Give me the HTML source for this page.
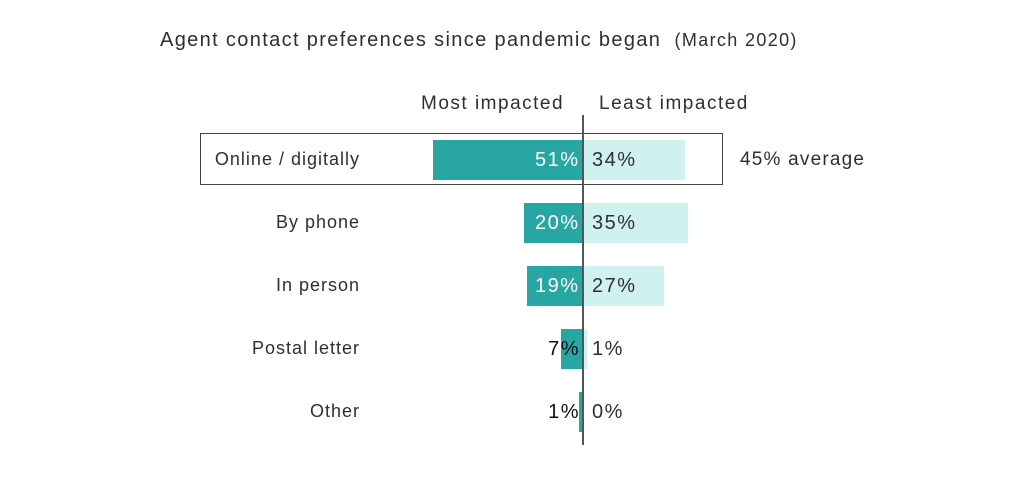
<!DOCTYPE html>
<html><head><style>
body{margin:0;width:1024px;height:479px;background:#fff;position:relative;font-family:"Liberation Sans",sans-serif;color:#2e2e38;overflow:hidden}
div{position:absolute}
.t{font-size:18px;white-space:nowrap}
.d{background:#27a6a4}
.l{background:#cff2f1}
.lab{right:664px;font-size:18px;text-align:right;white-space:nowrap;letter-spacing:1px}
.pw{color:#fff;font-size:20px;text-align:right;letter-spacing:1.5px;margin-right:-1.5px}
.pk{font-size:20px;letter-spacing:1.5px}
</style></head><body>
<div class="t" style="left:160px;top:29px;font-size:20px;letter-spacing:1.35px">Agent contact preferences since pandemic began <span style="font-size:18px">&nbsp;(March 2020)</span></div>
<div class="t" style="left:421px;top:93px;font-size:19px;letter-spacing:1.5px">Most impacted</div>
<div class="t" style="left:599px;top:93px;font-size:19px;letter-spacing:1.5px">Least impacted</div>
<div style="left:200px;top:133px;width:521px;height:50px;border:1.5px solid #444"></div>
<div class="t" style="left:740px;top:149px;font-size:19px;letter-spacing:1.2px">45% average</div>

<div class="d" style="left:433px;top:140px;width:149px;height:40px"></div>
<div class="l" style="left:584px;top:140px;width:101px;height:40px"></div>
<div class="d" style="left:524px;top:203px;width:58px;height:40px"></div>
<div class="l" style="left:584px;top:203px;width:104px;height:40px"></div>
<div class="d" style="left:527px;top:266px;width:55px;height:40px"></div>
<div class="l" style="left:584px;top:266px;width:80px;height:40px"></div>
<div class="d" style="left:561px;top:329px;width:21px;height:40px"></div>
<div class="l" style="left:584px;top:329px;width:3px;height:40px"></div>
<div class="d" style="left:579px;top:392px;width:3px;height:40px"></div>

<div style="left:582px;top:115px;width:1.5px;height:330px;background:#555"></div>

<div class="lab" style="top:149px">Online / digitally</div>
<div class="lab" style="top:212px">By phone</div>
<div class="lab" style="top:275px">In person</div>
<div class="lab" style="top:338px">Postal letter</div>
<div class="lab" style="top:401px">Other</div>

<div class="pw" style="right:446px;top:149px">51%</div>
<div class="pw" style="right:446px;top:212px">20%</div>
<div class="pw" style="right:446px;top:275px">19%</div>
<div class="pk" style="right:444px;top:338px;color:#111">7%</div>
<div class="pk" style="right:444px;top:401px;color:#111">1%</div>

<div class="pk" style="left:592px;top:149px">34%</div>
<div class="pk" style="left:592px;top:212px">35%</div>
<div class="pk" style="left:592px;top:275px">27%</div>
<div class="pk" style="left:592px;top:338px">1%</div>
<div class="pk" style="left:592px;top:401px">0%</div>
</body></html>
